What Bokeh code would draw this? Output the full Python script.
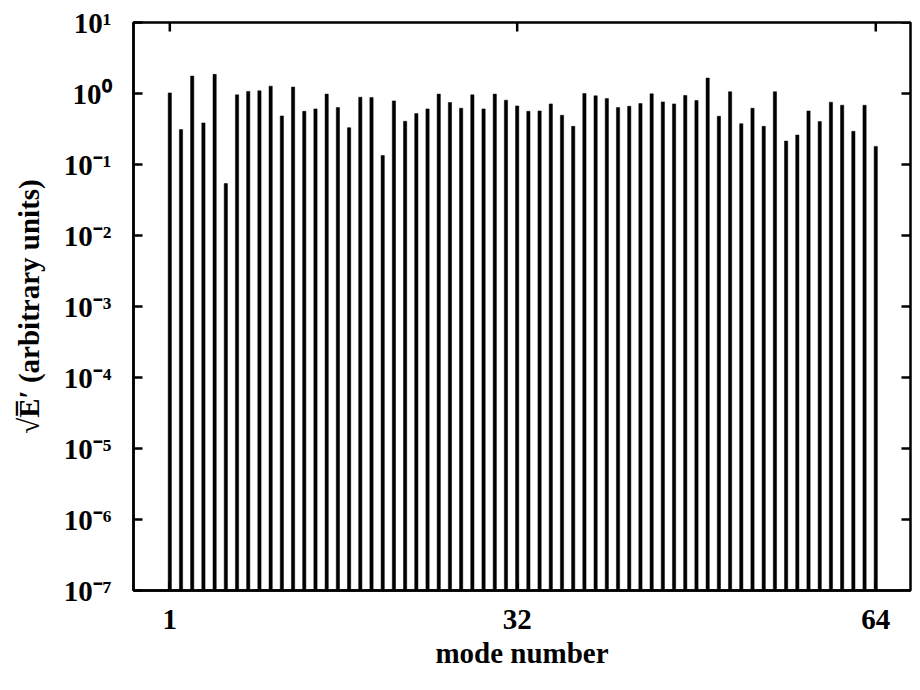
import math
from bokeh.plotting import figure
from bokeh.models import (Range1d, FixedTicker, CustomJSTickFormatter,
                          ColumnDataSource)
from bokeh.embed import file_html
from bokeh.resources import INLINE

# mode numbers and amplitudes sqrt(E') (arbitrary units)
modes = list(range(1, 65))
amplitude = [
    1.02, 0.31, 1.76, 0.385, 1.86, 0.054, 0.957, 1.07, 1.09, 1.27,
    0.483, 1.23, 0.562, 0.607, 0.98, 0.634, 0.33, 0.887, 0.878, 0.134,
    0.787, 0.406, 0.521, 0.607, 0.98, 0.746, 0.62, 0.957, 0.607, 0.98,
    0.805, 0.669, 0.562, 0.568, 0.714, 0.494, 0.345, 1.0, 0.927, 0.85,
    0.634, 0.662, 0.722, 0.99, 0.762, 0.714, 0.937, 0.796, 1.65, 0.478,
    1.06, 0.376, 0.62, 0.345, 1.06, 0.214, 0.26, 0.568, 0.402, 0.754,
    0.684, 0.293, 0.684, 0.18,
]
x_ticks = [1, 32, 64]
y_ticks = [10.0 ** k for k in range(-7, 2)]
x_lo, x_hi = -2.24, 67.1
y_lo, y_hi = 1e-7, 1e1

FONT = "Liberation Serif"
FS = "29px"
TICK_LEN = 9

src = ColumnDataSource(dict(mode=modes, amp=amplitude,
                            base=[y_lo] * len(modes)))

p = figure(width=920, height=690, y_axis_type="log",
           x_range=Range1d(x_lo, x_hi), y_range=Range1d(y_lo, y_hi),
           output_backend="svg", toolbar_location=None,
           min_border_left=133, min_border_right=10,
           min_border_top=22, min_border_bottom=100)
p.background_fill_color = "white"
p.border_fill_color = "white"
p.outline_line_color = "black"
p.outline_line_width = 2.5
p.xgrid.visible = False
p.ygrid.visible = False

p.vbar(x="mode", bottom="base", top="amp", width=0.29, source=src,
       fill_color="black", line_color="black", line_width=0.5)

# mirrored inward ticks on the top and right edges (clipped to the frame)
p.scatter(x=x_ticks, y=[y_hi] * len(x_ticks), marker="dash",
          size=2 * TICK_LEN, angle=math.pi / 2, line_color="black",
          line_width=2.5)
p.scatter(x=[x_hi] * len(y_ticks), y=y_ticks, marker="dash",
          size=2 * TICK_LEN, line_color="black", line_width=2.5)

sup_fmt = CustomJSTickFormatter(code="""
    const sup = {'-':'\u207B','0':'\u2070','1':'\u00B9','2':'\u00B2','3':'\u00B3',
                 '4':'\u2074','5':'\u2075','6':'\u2076','7':'\u2077','8':'\u2078','9':'\u2079'};
    const e = Math.round(Math.log10(tick));
    return '10' + String(e).split('').map(c => sup[c]).join('');
""")

def style_axis(ax):
    ax.axis_line_width = 2.5
    ax.axis_line_color = "black"
    ax.major_tick_in = TICK_LEN
    ax.major_tick_out = 0
    ax.major_tick_line_width = 2.5
    ax.major_tick_line_color = "black"
    ax.minor_tick_in = 0
    ax.minor_tick_out = 0
    ax.minor_tick_line_color = None
    ax.major_label_text_font = FONT
    ax.major_label_text_font_style = "bold"
    ax.major_label_text_font_size = FS
    ax.major_label_text_color = "black"
    ax.axis_label_text_font = FONT
    ax.axis_label_text_font_style = "bold"
    ax.axis_label_text_color = "black"
    ax.axis_label_text_font_size = FS

xa = p.xaxis[0]
xa.ticker = FixedTicker(ticks=x_ticks)
style_axis(xa)
xa.major_label_standoff = 19
xa.axis_label = "mode number"
xa.axis_label_standoff = 5

ya = p.yaxis[0]
ya.ticker = FixedTicker(ticks=y_ticks)
ya.formatter = sup_fmt
style_axis(ya)
ya.major_label_standoff = 22
ya.axis_label = "\u221AE\u0305\u2032 (arbitrary units)"
ya.axis_label_standoff = 16

open("out.html", "w").write(file_html(p, INLINE))
